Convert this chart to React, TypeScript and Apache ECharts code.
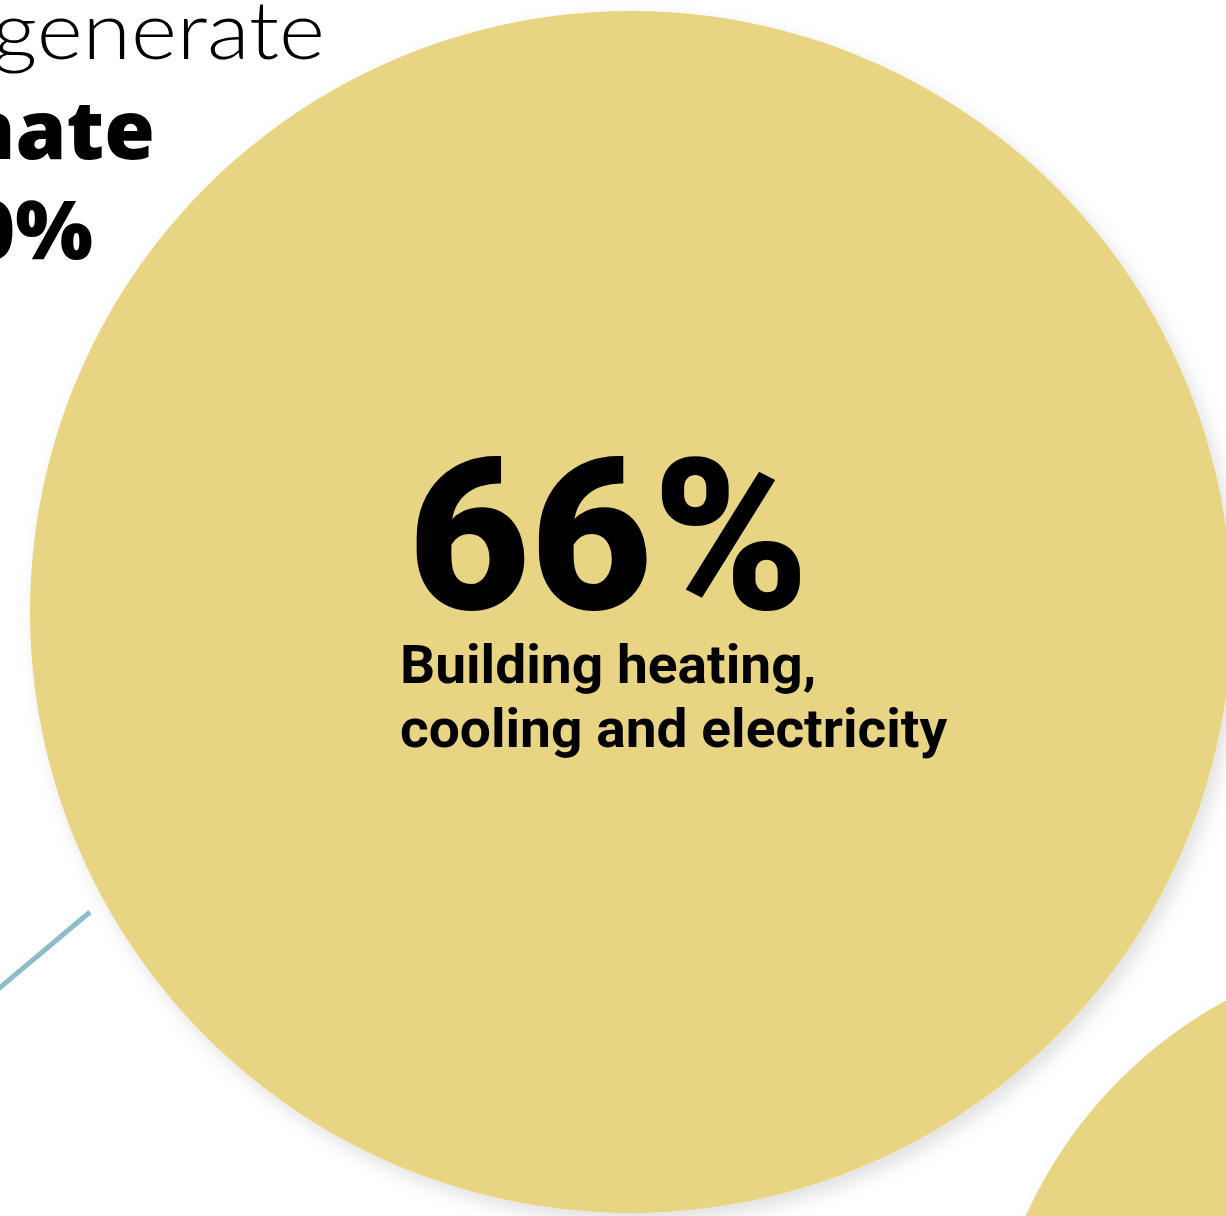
import React, { useEffect, useRef } from "react";
import * as echarts from "echarts";

// Bubble data (coordinates are in a 1226 x 1216 canvas-unit space)
const bubbleNames = ["Building heating, cooling and electricity", "Other sector"];
const bubbleShares = [66, 34];
const bubbleCenterX = [631, 1445];
const bubbleCenterY = [612, 1405];
const bubbleDiameter = [1202, 920];

// Connector line (to a bubble outside the view)
const connectorX = [-40, 90];
const connectorY = [1021, 912];

// Texts
const headlineLines = ["generate", "nate", "0%"];
const bigValueText = "66%";
const bigLabelLines = ["Building heating,", "cooling and electricity"];

const W = 1226;
const H = 1216;

export default function App() {
  const ref = useRef<HTMLDivElement>(null);

  useEffect(() => {
    document.body.style.margin = "0";
    if (!ref.current) return;
    const chart = echarts.init(ref.current, null, { renderer: "svg" });

    const bubbleData = bubbleNames.map((n, i) => ({
      name: n,
      value: [bubbleCenterX[i], bubbleCenterY[i], bubbleShares[i]],
      symbolSize: bubbleDiameter[i],
    }));

    const lineData = connectorX.map((x, i) => [x, connectorY[i]]);

    const option: any = {
      animation: false,
      backgroundColor: "#ffffff",
      grid: { left: 0, right: 0, top: 0, bottom: 0 },
      xAxis: { type: "value", min: 0, max: W, show: false },
      yAxis: { type: "value", min: 0, max: H, inverse: true, show: false },
      series: [
        {
          type: "line",
          data: lineData,
          symbol: "none",
          lineStyle: { color: "#8fbccb", width: 5 },
          z: 1,
        },
        {
          type: "scatter",
          data: bubbleData,
          symbol: "circle",
          clip: false,
          itemStyle: {
            color: "#e8d583",
            opacity: 1,
            shadowBlur: 18,
            shadowColor: "rgba(0,0,0,0.12)",
            shadowOffsetX: 6,
            shadowOffsetY: 8,
          },
          emphasis: { disabled: true },
          z: 2,
        },
      ],
      graphic: [
        {
          type: "text",
          x: 325,
          y: 55 - 0.34 * 80,
          scaleX: 1.1,
          z: 10,
          style: {
            text: headlineLines[0],
            fontFamily: "Lato",
            fontWeight: 300,
            fontSize: 80,
            lineHeight: 80,
            fill: "#000",
            textAlign: "right",
            textVerticalAlign: "middle",
          },
        },
        {
          type: "text",
          x: 155,
          y: 155 - 0.34 * 82,
          z: 10,
          style: {
            text: headlineLines[1],
            fontFamily: "Noto Sans",
            fontWeight: 900,
            fontSize: 82,
            lineHeight: 82,
            fill: "#000",
            textAlign: "right",
            textVerticalAlign: "middle",
          },
        },
        {
          type: "text",
          x: 93,
          y: 255 - 0.34 * 82,
          z: 10,
          style: {
            text: headlineLines[2],
            fontFamily: "Noto Sans",
            fontWeight: 900,
            fontSize: 82,
            lineHeight: 82,
            fill: "#000",
            textAlign: "right",
            textVerticalAlign: "middle",
          },
        },
        {
          type: "text",
          x: 408,
          y: 537,
          z: 10,
          style: {
            text: bigValueText,
            fontFamily: "Roboto",
            fontWeight: 900,
            fontSize: 211,
            fill: "#000",
            textAlign: "left",
            textVerticalAlign: "middle",
          },
        },
        {
          type: "text",
          x: 400,
          y: 665,
          scaleX: 1.04,
          z: 10,
          style: {
            text: bigLabelLines[0],
            fontFamily: "Roboto",
            fontWeight: 700,
            fontSize: 53,
            fill: "#000",
            textAlign: "left",
            textVerticalAlign: "middle",
          },
        },
        {
          type: "text",
          x: 400,
          y: 729,
          scaleX: 1.04,
          z: 10,
          style: {
            text: bigLabelLines[1],
            fontFamily: "Roboto",
            fontWeight: 700,
            fontSize: 53,
            fill: "#000",
            textAlign: "left",
            textVerticalAlign: "middle",
          },
        },
      ],
    };

    chart.setOption(option);
    return () => chart.dispose();
  }, []);

  return (
    <div
      ref={ref}
      style={{ position: "absolute", left: 0, top: 0, width: W, height: H }}
    />
  );
}
